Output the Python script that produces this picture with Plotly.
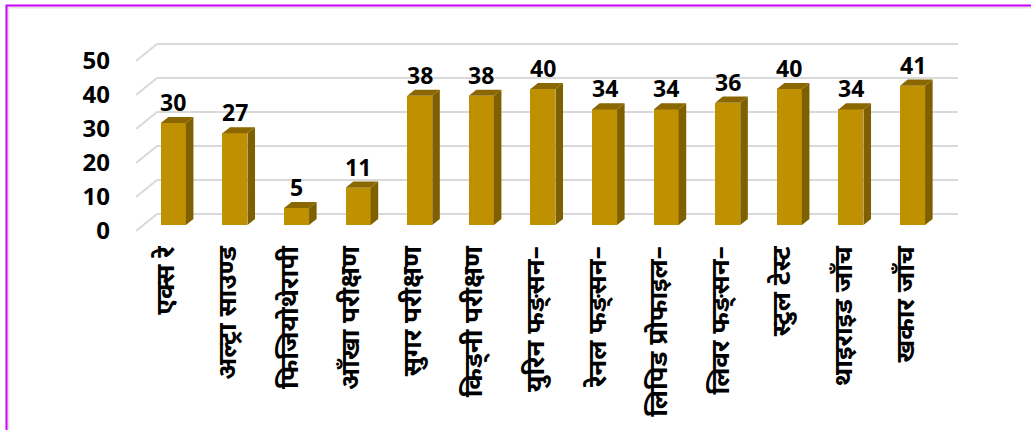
import plotly.graph_objects as go

# Services and number of patients
categories = [
    "एक्स रे", "अल्ट्रा साउण्ड", "फिजियोथेरापी", "आँखा परीक्षण", "सुगर परीक्षण",
    "किड्नी परीक्षण", "युरिन फङ्सन–", "रेनल फङ्सन–", "लिपिड प्रोफाइल–",
    "लिवर फङ्सन–", "स्टुल टेस्ट", "थाइराइड जाँच", "खकार जाँच",
]
values = [30, 27, 5, 11, 38, 38, 40, 34, 34, 36, 40, 34, 41]
y_ticks = [0, 10, 20, 30, 40, 50]

# Pseudo-3D geometry (in axis units)
DEPTH_X, DEPTH_Y = 0.341, 5.0        # floor depth: front edge -> back wall
PLANE = 0.35                          # fraction of depth where bars stand
SIDE = 0.36                           # bar thickness as a fraction of depth
BAR_W = 0.406
X_MIN, X_MAX = -0.487, 12.857
Y_MIN, Y_MAX = -0.88, 56.18

FRONT = "#BF9000"
SIDE_C = "#7F6000"
TOP_C = "#8A6700"
GRID = "#D9D9D9"

px0 = PLANE * DEPTH_X
py0 = PLANE * DEPTH_Y
sx = SIDE * DEPTH_X
sy = SIDE * DEPTH_Y

fig = go.Figure()

# Front faces
fig.add_trace(go.Bar(
    x=[i + px0 for i in range(len(values))], y=values, base=py0, width=BAR_W,
    marker=dict(color=FRONT, line=dict(width=0)), hoverinfo="skip",
    showlegend=False,
))

# Side and top faces
side_x, side_y, top_x, top_y = [], [], [], []
for i, v in enumerate(values):
    xl = i + px0 - BAR_W / 2
    xr = i + px0 + BAR_W / 2
    top = py0 + v
    side_x += [xr, xr + sx, xr + sx, xr, xr, None]
    side_y += [py0, py0 + sy, top + sy, top, py0, None]
    top_x += [xl, xr, xr + sx, xl + sx, xl, None]
    top_y += [top, top, top + sy, top + sy, top, None]

fig.add_trace(go.Scatter(x=side_x, y=side_y, mode="lines", fill="toself",
                         fillcolor=SIDE_C, line=dict(width=0), hoverinfo="skip",
                         showlegend=False))
fig.add_trace(go.Scatter(x=top_x, y=top_y, mode="lines", fill="toself",
                         fillcolor=TOP_C, line=dict(width=0), hoverinfo="skip",
                         showlegend=False))

# Value labels
for i, v in enumerate(values):
    fig.add_annotation(
        x=i + px0, y=py0 + v + sy, text=str(v), showarrow=False,
        yanchor="bottom", xanchor="center", yshift=-3,
        font=dict(family="Noto Sans", size=23, color="black", weight="bold"),
    )

# Back wall gridlines with their floor-side diagonals
shapes = []
for t in y_ticks:
    shapes.append(dict(type="line", xref="x", yref="y", layer="below",
                       x0=X_MIN + DEPTH_X, y0=t + DEPTH_Y, x1=X_MAX, y1=t + DEPTH_Y,
                       line=dict(color=GRID, width=2)))
    shapes.append(dict(type="line", xref="x", yref="y", layer="below",
                       x0=X_MIN, y0=t, x1=X_MIN + DEPTH_X, y1=t + DEPTH_Y,
                       line=dict(color=GRID, width=2)))

# Outer frame
L, R, T, B = 136, 73, 40, 196
W, H = 1031, 430
pw, ph = W - L - R, H - T - B


def paper_x(px):
    return (px - L) / pw


def paper_y(py):
    return 1 - (py - T) / ph


shapes.append(dict(type="rect", xref="paper", yref="paper", layer="above",
                   x0=paper_x(8.5), y0=paper_y(440), x1=paper_x(1040), y1=paper_y(7.5),
                   line=dict(color="#E3E3E3", width=2)))
shapes.append(dict(type="rect", xref="paper", yref="paper", layer="above",
                   x0=paper_x(6.5), y0=paper_y(440), x1=paper_x(1040), y1=paper_y(5.5),
                   line=dict(color="#CC00FF", width=2)))

fig.update_layout(
    width=W, height=H,
    margin=dict(l=L, r=R, t=T, b=B, autoexpand=False),
    paper_bgcolor="white", plot_bgcolor="white",
    shapes=shapes,
    bargap=0,
    xaxis=dict(
        range=[X_MIN, X_MAX], tickmode="array",
        tickvals=list(range(len(categories))), ticktext=categories,
        tickangle=-90, showgrid=False, zeroline=False, showline=False,
        ticks="", ticklabelstandoff=6, automargin=False,
        tickfont=dict(family="Noto Sans", size=26, color="black", weight="bold"),
        fixedrange=True,
    ),
    yaxis=dict(
        range=[Y_MIN, Y_MAX], tickmode="array", tickvals=y_ticks,
        showgrid=False, zeroline=False, showline=False, ticks="",
        ticklabelstandoff=25, automargin=False,
        tickfont=dict(family="Noto Sans", size=24, color="black", weight="bold"),
        fixedrange=True,
    ),
)

fig.write_html("out.html")
